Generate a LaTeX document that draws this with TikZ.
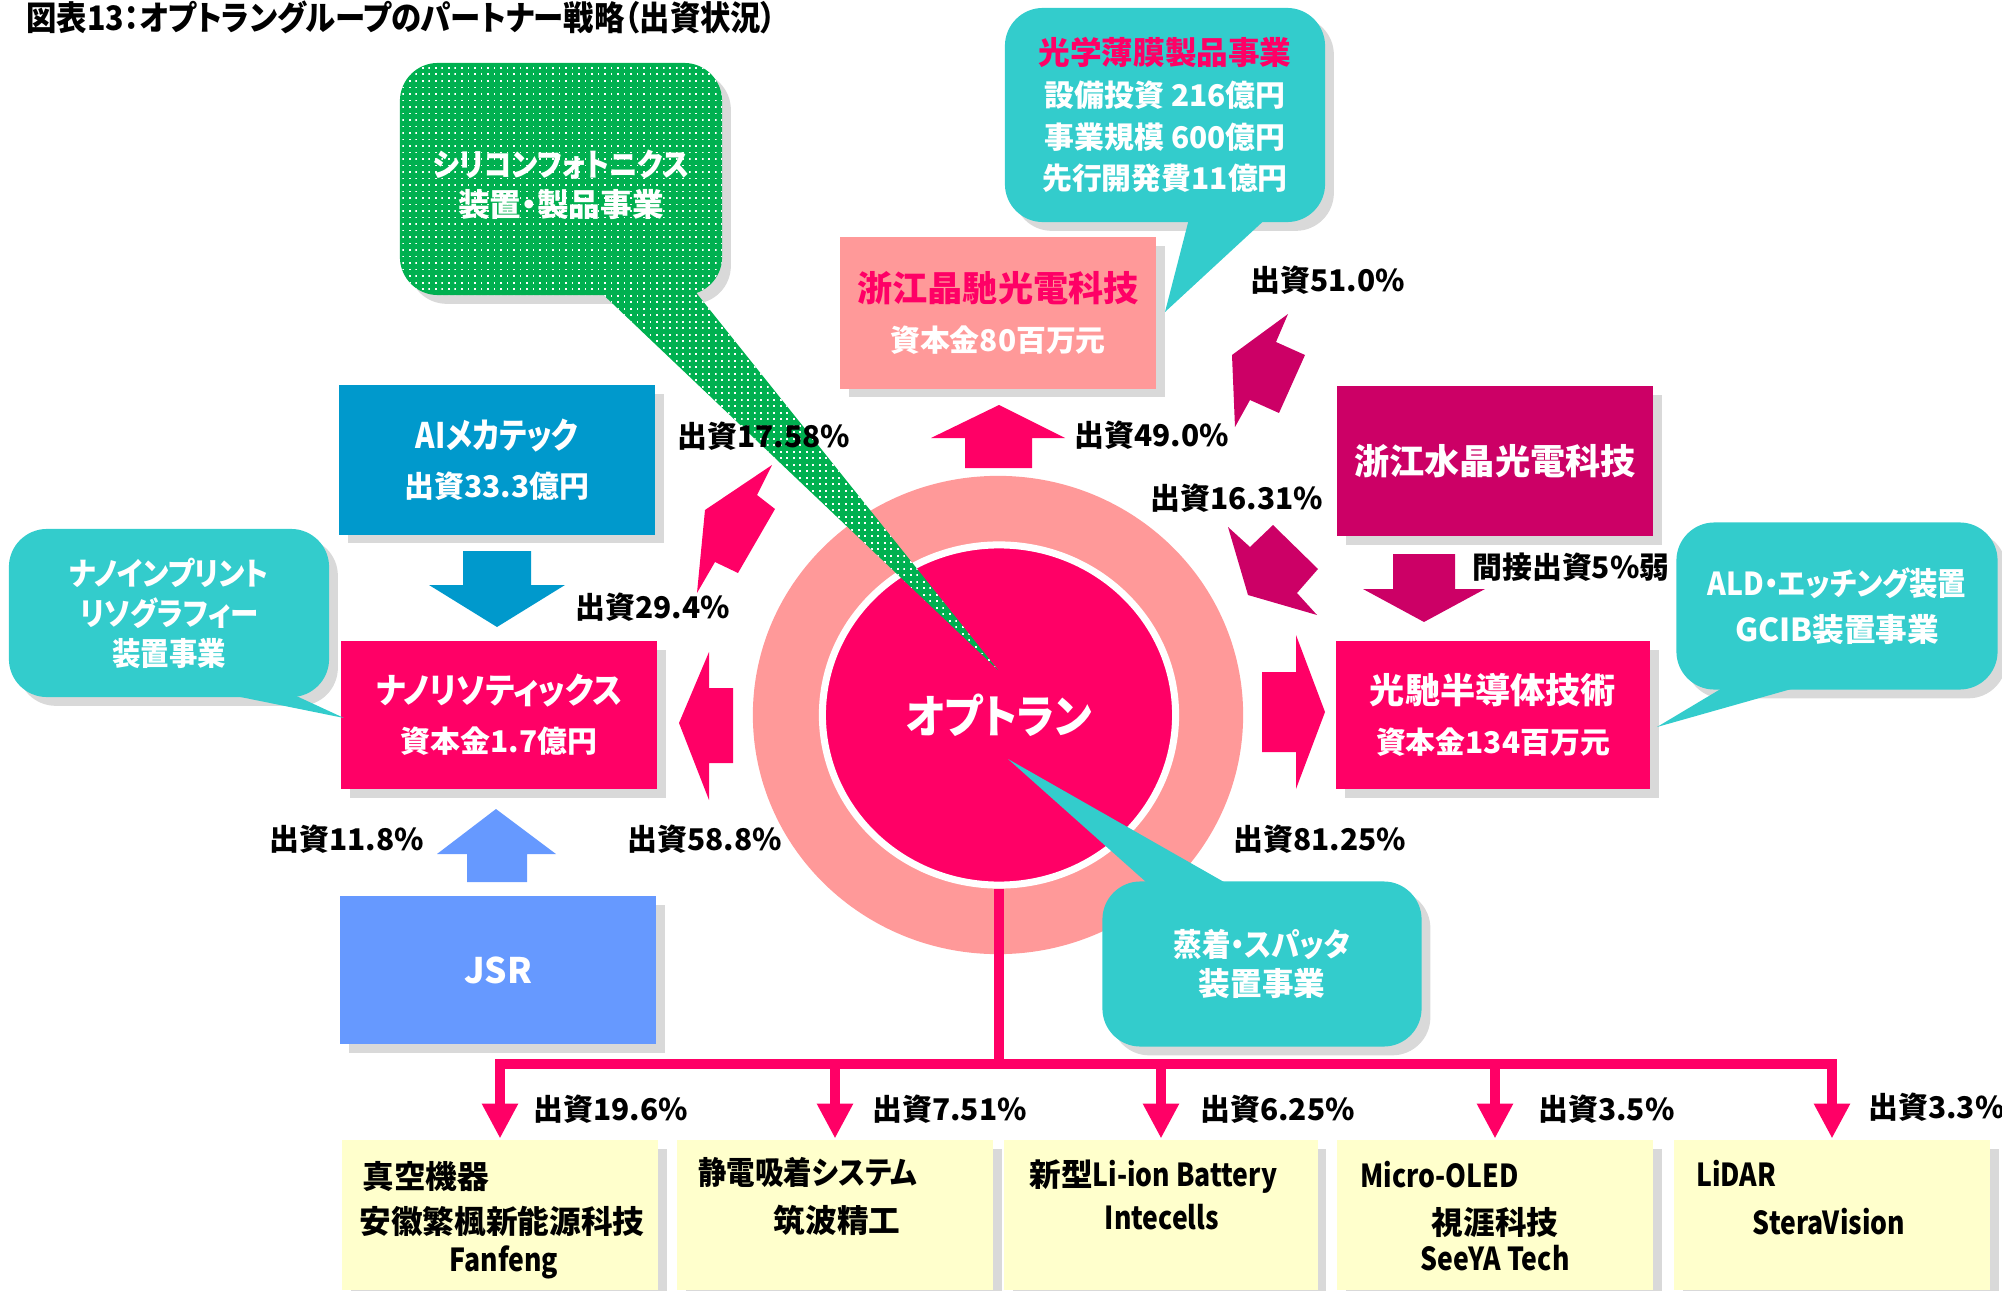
\documentclass[tikz,border=0pt]{standalone}
\usepackage{fontspec}
\setmainfont{Noto Sans CJK JP}[RawFeature=+palt]
\newfontfamily\cond{Noto Sans CJK JP}[FakeStretch=0.9,RawFeature=+palt]
\newfontfamily\tight{Noto Sans CJK JP}[FakeStretch=0.84,RawFeature=+palt]
\usepackage{tikz}
\usetikzlibrary{arrows.meta,shapes.geometric,shadows,patterns}

\definecolor{optpink}{RGB}{255,0,102}
\definecolor{plum}{RGB}{204,0,102}
\definecolor{salmon}{RGB}{255,153,153}
\definecolor{aqua}{RGB}{51,204,204}
\definecolor{ocean}{RGB}{0,153,204}
\definecolor{sky}{RGB}{102,153,255}
\definecolor{cream}{RGB}{255,255,204}
\definecolor{leaf}{RGB}{0,176,80}

\pgfdeclarepatternformonly{finedots}{\pgfqpoint{-0.3pt}{-0.3pt}}{\pgfqpoint{0.3pt}{0.3pt}}{\pgfqpoint{1.85pt}{1.85pt}}{%
  \pgfpathrectangle{\pgfqpoint{-0.26pt}{-0.26pt}}{\pgfqpoint{0.52pt}{0.52pt}}\pgfusepath{fill}}

\newcommand{\smallline}{\fontsize{8.5}{14}\selectfont}

\begin{document}
\begin{tikzpicture}[x=0.01cm,y=-0.01cm,thick,
    firm/.style={rectangle,minimum width=3.16cm,minimum height=1.48cm,inner sep=0pt,align=center,
      text=white,font={\fontsize{10}{14}\selectfont\bfseries},
      drop shadow={shadow xshift=2.5pt,shadow yshift=-2.5pt,opacity=.3}},
    lot/.style={rectangle,fill=cream,minimum width=3.16cm,minimum height=1.5cm,inner sep=0pt,
      drop shadow={shadow xshift=2.5pt,shadow yshift=-2.5pt,opacity=.3}},
    bubble/.style={rectangle,rounded corners=0.38cm,fill=aqua,inner sep=0pt,align=center,text=white,
      font={\fontsize{9}{11.4}\selectfont\bfseries},
      drop shadow={shadow xshift=2.5pt,shadow yshift=-2.5pt,opacity=.3}},
    pct/.style={anchor=west,inner sep=0pt,font={\fontsize{8.5}{10}\selectfont\bfseries}},
    tag/.style={inner sep=0pt,font={\fontsize{9}{11}\selectfont\bfseries}},
    trunk/.style={draw=optpink,line width=0.1cm},
    drop/.style={draw=optpink,line width=0.1cm,-{Triangle[length=0.35cm,width=0.34cm]},
      to path={-| (\tikztotarget)}}]

  \useasboundingbox (0,0) rectangle (2002,1291);

  \node[ellipse,fill=salmon,minimum width=4.9cm,minimum height=4.78cm] (ring) at (998,715) {};
  \node[ellipse,fill=optpink,draw=white,line width=2pt,minimum width=3.53cm,minimum height=3.4cm,
    text=white,font={\fontsize{13}{15}\selectfont\bfseries}] (opt) at (999,715) {\cond オプトラン};

  \fill[optpink] (999,405) -- (1065,438) -- (1032,438) -- (1032,468) -- (965,468) -- (965,438) -- (931,438) -- cycle;
  \fill[plum] (1288,314) -- (1276,342) -- (1305,355) -- (1279,413) -- (1250,400) -- (1235,427) -- (1232,355) -- cycle;
  \fill[plum] (1228,527) -- (1250,547) -- (1273,525) -- (1318,569) -- (1297,593) -- (1317,615) -- (1248,595) -- cycle;
  \fill[optpink] (772,465) -- (757,495) -- (775,509) -- (738,573) -- (715,562) -- (697,593) -- (705,510) -- cycle;
  \fill[optpink] (679,723) -- (709,652) -- (709,688) -- (733,688) -- (733,763) -- (709,763) -- (709,800) -- cycle;
  \fill[optpink] (1325,712) -- (1296,789) -- (1296,752) -- (1262,752) -- (1262,672) -- (1296,672) -- (1296,635) -- cycle;
  \fill[ocean] (497,627) -- (429,585) -- (463,585) -- (463,551) -- (531,551) -- (531,585) -- (565,585) -- cycle;
  \fill[sky] (496,809) -- (556,854) -- (527,854) -- (527,882) -- (467,882) -- (467,854) -- (437,854) -- cycle;
  \fill[plum] (1424,622) -- (1363,589) -- (1393,589) -- (1393,554) -- (1455,554) -- (1455,589) -- (1485,589) -- cycle;

  \node[firm,fill=ocean,minimum height=1.49cm] (alm) at (497,460) {{\tight AIメカテック}\\{\smallline 出資33.3億円}};
  \node[firm,fill=optpink] (nano) at (499,715) {{\cond ナノリソティックス}\\{\smallline 資本金1.7億円}};
  \node[firm,fill=sky] (jsr) at (498,970) {JSR};
  \node[firm,fill=salmon,minimum height=1.51cm] (jingchi) at (998,313) {\textcolor{optpink}{浙江晶馳光電科技}\\{\smallline 資本金80百万元}};
  \node[firm,fill=plum,minimum height=1.5cm] (crystal) at (1495,461) {浙江水晶光電科技};
  \node[firm,fill=optpink,minimum width=3.14cm] (koch) at (1493,715) {光馳半導体技術\\{\smallline 資本金134百万元}};

  \node[bubble,fill=leaf,postaction={pattern=finedots,pattern color=white},
    minimum width=3.22cm,minimum height=2.32cm] (photon) at (561,179) {\rule{0pt}{0.38cm}{\cond シリコンフォトニクス}\\装置・製品事業};
  \fill[leaf,postaction={pattern=finedots,pattern color=white}] (593,285) -- (998,670) -- (690,285) -- cycle;

  \node[bubble,minimum width=3.2cm,minimum height=2.14cm,font={\fontsize{8.5}{11.9}\selectfont\bfseries}] (film) at (1165,115)
    {{\fontsize{9}{11.9}\selectfont\textcolor{optpink}{光学薄膜製品事業}}\\設備投資 216億円\\事業規模 600億円\\先行開発費11億円};
  \fill[aqua] (1190,215) -- (1165,312) -- (1270,215) -- cycle;

  \node[bubble,minimum width=3.2cm,minimum height=1.68cm,font={\fontsize{9}{11.4}\selectfont\bfseries\cond}] (imprint) at (169,613) {ナノインプリント\\リソグラフィー\\装置事業};
  \fill[aqua] (196,688) -- (344,718) -- (279,688) -- cycle;

  \node[bubble,minimum width=3.21cm,minimum height=1.67cm,font={\fontsize{9}{13}\selectfont\bfseries}] (ald) at (1837,606) {{\cond ALD・エッチング装置}\\GCIB装置事業};
  \fill[aqua] (1729,684) -- (1657,727) -- (1809,684) -- cycle;

  \node[bubble,minimum width=3.19cm,minimum height=1.65cm,font={\fontsize{9}{11}\selectfont\bfseries}] (vapor) at (1262,964) {{\cond 蒸着・スパッタ}\\装置事業};
  \fill[aqua] (1155,890) -- (1008,759) -- (1238,890) -- cycle;

  \node[lot] (b1) at (500,1215) {};
  \node[lot] (b2) at (835,1215) {};
  \node[lot,minimum width=3.13cm] (b3) at (1161,1215) {};
  \node[lot] (b4) at (1495,1215) {};
  \node[lot] (b5) at (1832,1215) {};

  \coordinate (hub) at (999,1064);
  \draw[trunk] (opt.south) -- (hub);
  \path (hub) edge[drop] (b1.north) edge[drop] (b2.north) edge[drop] (b3.north)
    edge[drop] (b4.north) edge[drop] (b5.north);

  \node[tag,anchor=west] (t1) at (361,1176) {真空機器};
  \node[tag] (n1) at (502,1222) {安徽繁楓新能源科技};
  \node[tag] (e1) at (504,1262) {\tight Fanfeng};
  \node[tag,anchor=west] (t2) at (697,1172) {\cond 静電吸着システム};
  \node[tag] (n2) at (837,1220) {筑波精工};
  \node[tag,anchor=west] (t3) at (1028,1177) {新型{\tight Li-ion Battery}};
  \node[tag] (e3) at (1162,1217) {\tight Intecells};
  \node[tag,anchor=west] (t4) at (1359,1175) {\tight Micro-OLED};
  \node[tag] (n4) at (1495,1222) {視涯科技};
  \node[tag] (e4) at (1495,1258) {\tight SeeYA Tech};
  \node[tag,anchor=west] (t5) at (1695,1173) {\tight LiDAR};
  \node[tag] (e5) at (1829,1222) {\tight SteraVision};

  \node[pct] (p1758) at (676,436) {出資17.58\%};
  \node[pct] (p294) at (574,607) {出資29.4\%};
  \node[pct] (p588) at (626,839) {出資58.8\%};
  \node[pct] (p118) at (268,839) {出資11.8\%};
  \node[pct] (p490) at (1073,435) {出資49.0\%};
  \node[pct] (p510) at (1249,280) {出資51.0\%};
  \node[pct] (p1631) at (1149,498) {出資16.31\%};
  \node[pct] (p8125) at (1232,839) {出資81.25\%};
  \node[pct] (p5) at (1471,567) {間接出資5\%弱};
  \node[pct] (p196) at (532,1109) {出資19.6\%};
  \node[pct] (p751) at (871,1109) {出資7.51\%};
  \node[pct] (p625) at (1199,1109) {出資6.25\%};
  \node[pct] (p35) at (1537,1109) {出資3.5\%};
  \node[pct] (p33) at (1867,1107) {出資3.3\%};

  \node[pct,font={\fontsize{9.6}{11}\selectfont\bfseries\cond}] (title) at (25,17) {図表13：オプトラングループのパートナー戦略（出資状況）};
\end{tikzpicture}
\end{document}
